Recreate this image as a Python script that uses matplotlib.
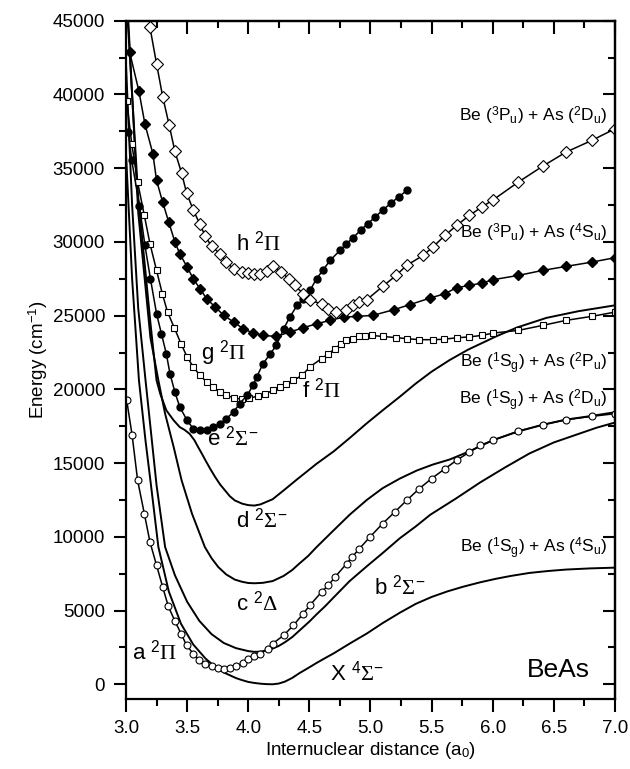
#!/usr/bin/env python3
"""BeAs potential energy curves."""

import matplotlib
matplotlib.use('Agg')
import matplotlib.pyplot as plt
from matplotlib.ticker import MultipleLocator

# X 4Sigma- (solid)
X_R = [3.0, 3.05, 3.106, 3.16, 3.2, 3.265, 3.35, 3.45, 3.55, 3.65, 3.72, 3.8, 3.9, 3.95, 4.0,
       4.05, 4.1, 4.15, 4.2, 4.25, 4.3, 4.36, 4.42, 4.49, 4.56, 4.63, 4.7, 4.83, 4.97, 5.1, 5.24,
       5.37, 5.5, 5.63, 5.76, 5.9, 6.03, 6.15, 6.3, 6.45, 6.6, 6.8, 7.0]
X_E = [36000, 27500, 20600, 16500, 13800, 9310, 6300, 4100, 2700, 1750, 1250, 800, 420, 280, 160,
       90, 40, 10, 0, 50, 180, 430, 760, 1100, 1450, 1780, 2100, 2760, 3440, 4150, 4850,
       5450, 5920, 6300, 6620, 6920, 7160, 7350, 7550, 7680, 7780, 7860, 7910]

# b 2Sigma- (solid)
B_R = [3.0, 3.05, 3.1, 3.16, 3.25, 3.32, 3.4, 3.5, 3.6, 3.7, 3.8, 3.9, 4.0, 4.05, 4.1, 4.18,
       4.25, 4.3, 4.36, 4.42, 4.5, 4.56, 4.63, 4.7, 4.83, 4.97, 5.1, 5.24, 5.37, 5.49, 5.7, 5.9,
       6.1, 6.3, 6.5, 6.71, 6.85, 7.0]
B_E = [42000, 32500, 25500, 20600, 13500, 9310, 7400, 5600, 4300, 3400, 2800, 2450, 2250, 2200,
       2210, 2350, 2600, 2850, 3200, 3650, 4250, 4750, 5300, 5900, 7000, 8000, 8900, 9900, 10700,
       11500, 12600, 13700, 14700, 15650, 16400, 17000, 17400, 17750]

# c 2Delta (solid)
C_R = [3.0, 3.1, 3.2, 3.265, 3.32, 3.39, 3.455, 3.54, 3.645, 3.7, 3.755, 3.82, 3.89, 3.95, 4.0,
       4.05, 4.12, 4.2, 4.29, 4.36, 4.42, 4.49, 4.56, 4.63, 4.7, 4.83, 4.97, 5.1, 5.24, 5.38,
       5.51, 5.65, 5.81, 6.0, 6.21, 6.41, 6.6, 6.81, 7.0]
C_E = [48000, 32000, 23500, 20610, 18350, 16090, 13830, 11570, 9310, 8550, 7950, 7450, 7100, 6950,
       6870, 6850, 6880, 7000, 7350, 7750, 8200, 8700, 9310, 9880, 10450, 11500, 12500, 13300,
       13950, 14500, 14900, 15250, 15800, 16550, 17150, 17600, 17950, 18200, 18450]

# d 2Sigma- (solid)
D_R = [3.0, 3.1, 3.2, 3.25, 3.28, 3.33, 3.39, 3.44, 3.48, 3.52, 3.56, 3.59, 3.62, 3.65, 3.69,
       3.73, 3.77, 3.81, 3.85, 3.89, 3.95, 4.0, 4.05, 4.1, 4.2, 4.29, 4.4, 4.56, 4.7, 4.83, 4.97,
       5.1, 5.24, 5.37, 5.5, 5.65, 5.8, 6.03, 6.2, 6.44, 6.7, 7.0]
D_E = [47000, 33000, 24500, 20610, 19700, 18580, 17900, 17440, 17250, 16990, 16550, 16090, 15650,
       15190, 14600, 14050, 13550, 13150, 12750, 12470, 12250, 12150, 12120, 12200, 12550, 13150,
       13900, 14960, 15800, 16700, 17700, 18580, 19500, 20390, 21200, 22000, 22700, 23600, 24200,
       24850, 25300, 25700]

# a 2Pi (open circles)
A_R = [3.005, 3.05, 3.095, 3.15, 3.196, 3.25, 3.30, 3.346, 3.40, 3.45, 3.496, 3.55, 3.597, 3.65,
       3.70, 3.75, 3.80, 3.85, 3.90, 3.96, 4.00, 4.05, 4.10, 4.16, 4.20, 4.29, 4.37, 4.45, 4.505,
       4.60, 4.655, 4.71, 4.805, 4.85, 4.91, 4.996, 5.10, 5.20, 5.296, 5.40, 5.50, 5.61, 5.705,
       5.81, 5.90, 6.0, 6.21, 6.41, 6.60, 6.81, 7.0]
A_E = [19300, 16900, 13830, 11570, 9650, 8070, 6600, 5290, 4290, 3440, 2640, 2080, 1670, 1400,
       1240, 1130, 1060, 1130, 1240, 1450, 1740, 1900, 2080, 2420, 2760, 3320, 4000, 4790, 5360,
       6260, 6710, 7270, 8180, 8630, 9200, 9990, 10900, 11690, 12470, 13270, 13950, 14620, 15190,
       15750, 16200, 16540, 17170, 17600, 17940, 18170, 18350]

# e 2Sigma- (filled circles)
E_R = [3.02, 3.047, 3.11, 3.155, 3.2, 3.25, 3.29, 3.33, 3.36, 3.40, 3.44, 3.50, 3.55, 3.605, 3.66,
       3.71, 3.77, 3.82, 3.88, 3.93, 3.99, 4.04, 4.07, 4.12, 4.18, 4.23, 4.29, 4.34, 4.40, 4.45,
       4.505, 4.56, 4.61, 4.67, 4.75, 4.80, 4.86, 4.92, 4.98, 5.04, 5.10, 5.17, 5.23, 5.30]
E_E = [37450, 35530, 32450, 29760, 27500, 25130, 23770, 22410, 21060, 19820, 18800, 17900, 17330,
       17220, 17270, 17440, 17670, 18010, 18460, 19030, 19590, 20270, 20840, 21730, 22410, 22980,
       24110, 24900, 25690, 26150, 26710, 27510, 28070, 28750, 29420, 29850, 30300, 30800, 31250,
       31700, 32150, 32650, 33050, 33500]

# g / f 2Pi (open squares)
G_R = [3.005, 3.047, 3.095, 3.15, 3.196, 3.25, 3.297, 3.34, 3.395, 3.45, 3.50, 3.55, 3.605, 3.66,
       3.71, 3.77, 3.82, 3.88, 3.95, 4.01, 4.08, 4.14, 4.205, 4.26, 4.31, 4.37, 4.44, 4.505, 4.60,
       4.655, 4.71, 4.76, 4.80, 4.86, 4.91, 4.955, 5.01, 5.10, 5.21, 5.30, 5.40, 5.51, 5.60, 5.705,
       5.81, 5.91, 6.005, 6.21, 6.41, 6.60, 6.81, 7.0]
G_E = [39590, 36660, 34060, 31800, 29880, 28070, 26490, 25240, 24180, 23100, 22200, 21530, 20950,
       20500, 20160, 19820, 19590, 19440, 19320, 19400, 19550, 19710, 19930, 20160, 20380, 20610,
       20950, 21530, 22090, 22410, 22760, 23100, 23320, 23440, 23590, 23590, 23660, 23590, 23510,
       23440, 23370, 23370, 23400, 23500, 23560, 23660, 23820, 24000, 24340, 24680, 24950, 25240]

# unlabelled 2Pi to Be(3Pu)+As(4Su) (filled diamonds)
P_R = [3.03, 3.106, 3.155, 3.22, 3.25, 3.30, 3.35, 3.40, 3.44, 3.50, 3.55, 3.605, 3.66, 3.73, 3.80,
       3.88, 3.96, 4.04, 4.12, 4.23, 4.34, 4.45, 4.56, 4.67, 4.78, 4.89, 5.02, 5.19, 5.32, 5.49,
       5.61, 5.705, 5.81, 5.91, 6.005, 6.21, 6.41, 6.60, 6.81, 7.0]
P_E = [42870, 40210, 37990, 35980, 34170, 32700, 31340, 30000, 29200, 28300, 27510, 26830, 26150,
       25580, 25020, 24570, 24110, 23820, 23660, 23590, 23890, 24180, 24450, 24680, 24900, 24950,
       25020, 25400, 25740, 26200, 26490, 26900, 27050, 27210, 27440, 27730, 28070, 28340, 28630,
       28930]

# h 2Pi (open diamonds)
H_R = [3.196, 3.25, 3.30, 3.354, 3.40, 3.455, 3.496, 3.55, 3.605, 3.65, 3.70, 3.77, 3.82, 3.88,
       3.95, 4.0, 4.05, 4.096, 4.15, 4.205, 4.27, 4.33, 4.38, 4.45, 4.505, 4.60, 4.65, 4.72, 4.80,
       4.86, 4.91, 4.97, 5.10, 5.21, 5.296, 5.43, 5.51, 5.61, 5.705, 5.81, 5.91, 6.005, 6.21, 6.41,
       6.60, 6.81, 7.0]
H_E = [44560, 42080, 39860, 37900, 36140, 34670, 33310, 32180, 31190, 30370, 29700, 29200, 28630,
       28180, 27950, 27880, 27850, 27840, 28020, 28340, 27960, 27510, 27050, 26490, 26030, 25810,
       25470, 25240, 25360, 25690, 25920, 26080, 26980, 27730, 28410, 29080, 29650, 30440, 31120,
       31800, 32360, 32860, 34060, 35140, 36090, 36880, 37670]

STATE_LABELS = [r'h $^{\mathsf{2}}\Pi$', r'g $^{\mathsf{2}}\Pi$', r'f $^{\mathsf{2}}\Pi$',
                r'e $^{\mathsf{2}}\Sigma^{\mathsf{-}}$', r'd $^{\mathsf{2}}\Sigma^{\mathsf{-}}$',
                r'c $^{\mathsf{2}}\Delta$', r'a $^{\mathsf{2}}\Pi$',
                r'b $^{\mathsf{2}}\Sigma^{\mathsf{-}}$', r'X $^{\mathsf{4}}\Sigma^{\mathsf{-}}$']
STATE_X = [3.9, 3.61, 4.44, 3.66, 3.9, 3.9, 3.05, 5.03, 4.67]
STATE_Y = [29900, 22440, 19930, 16700, 11120, 5490, 2170, 6580, 750]

LIMIT_LABELS = [
    r'Be ($^{\mathsf{3}}$P$_{\mathsf{u}}$) + As ($^{\mathsf{2}}$D$_{\mathsf{u}}$)',
    r'Be ($^{\mathsf{3}}$P$_{\mathsf{u}}$) + As ($^{\mathsf{4}}$S$_{\mathsf{u}}$)',
    r'Be ($^{\mathsf{1}}$S$_{\mathsf{g}}$) + As ($^{\mathsf{2}}$P$_{\mathsf{u}}$)',
    r'Be ($^{\mathsf{1}}$S$_{\mathsf{g}}$) + As ($^{\mathsf{2}}$D$_{\mathsf{u}}$)',
    r'Be ($^{\mathsf{1}}$S$_{\mathsf{g}}$) + As ($^{\mathsf{4}}$S$_{\mathsf{u}}$)',
]
LIMIT_Y = [38580, 30580, 21760, 19250, 9220]


def main() -> None:
    plt.rcParams['font.family'] = ['Liberation Sans', 'DejaVu Sans']
    plt.rcParams['mathtext.fontset'] = 'custom'
    plt.rcParams['mathtext.rm'] = 'Liberation Serif'
    plt.rcParams['mathtext.sf'] = 'Liberation Sans'
    plt.rcParams['mathtext.it'] = 'Liberation Serif:italic'

    fig = plt.figure(figsize=(6.3, 7.69), dpi=100)
    ax = fig.add_axes([0.2, 0.091, 0.776, 0.882])

    lw = 1.1
    for r, e in [(X_R, X_E), (B_R, B_E), (C_R, C_E), (D_R, D_E)]:
        ax.plot(r, e, color='black', lw=1.4, solid_joinstyle='round')
    ax.plot(A_R, A_E, color='black', lw=lw, marker='o', ms=5, mfc='white', mec='black', mew=0.8)
    ax.plot(G_R, G_E, color='black', lw=lw, marker='s', ms=5, mfc='white', mec='black', mew=0.8)
    ax.plot(E_R, E_E, color='black', lw=lw, marker='o', ms=5, mfc='black', mec='black')
    ax.plot(P_R, P_E, color='black', lw=lw, marker='D', ms=5, mfc='black', mec='black')
    ax.plot(H_R, H_E, color='black', lw=lw, marker='D', ms=6, mfc='white', mec='black', mew=0.8)

    for label, x, y in zip(STATE_LABELS, STATE_X, STATE_Y):
        ax.text(x, y, label, fontsize=16, ha='left', va='center')
    for label, y in zip(LIMIT_LABELS, LIMIT_Y):
        ax.text(6.94, y, label, fontsize=12.5, ha='right', va='center')
    ax.text(6.28, 950, 'BeAs', fontsize=19, ha='left', va='center')

    ax.set_xlim(3.0, 7.0)
    ax.set_ylim(-1000, 45000)
    ax.xaxis.set_major_locator(MultipleLocator(0.5))
    ax.xaxis.set_minor_locator(MultipleLocator(0.25))
    ax.yaxis.set_major_locator(MultipleLocator(5000))
    ax.yaxis.set_minor_locator(MultipleLocator(2500))
    ax.xaxis.set_major_formatter(lambda v, pos: f'{v:.1f}')
    ax.tick_params(which='major', direction='out', length=9, width=1.5, labelsize=13.5, pad=6)
    ax.tick_params(which='minor', direction='out', length=5, width=1.5)

    top = ax.secondary_xaxis('top')
    top.xaxis.set_major_locator(MultipleLocator(0.5))
    top.xaxis.set_minor_locator(MultipleLocator(0.25))
    top.tick_params(which='major', direction='in', length=9, width=1.5, labeltop=False)
    top.tick_params(which='minor', direction='in', length=5, width=1.5)
    right = ax.secondary_yaxis('right')
    right.yaxis.set_major_locator(MultipleLocator(5000))
    right.yaxis.set_minor_locator(MultipleLocator(2500))
    right.tick_params(which='major', direction='in', length=9, width=1.5, labelright=False)
    right.tick_params(which='minor', direction='in', length=5, width=1.5)
    for sp in list(ax.spines.values()) + [top.spines['top'], right.spines['right']]:
        sp.set_linewidth(1.6)

    ax.set_xlabel(r'Internuclear distance (a$_{\mathsf{0}}$)', fontsize=13.5, labelpad=2)
    ax.set_ylabel(r'Energy (cm$^{\mathsf{-1}}$)', fontsize=13.5, labelpad=2)

    fig.savefig('out.png', dpi=100)


if __name__ == '__main__':
    main()
